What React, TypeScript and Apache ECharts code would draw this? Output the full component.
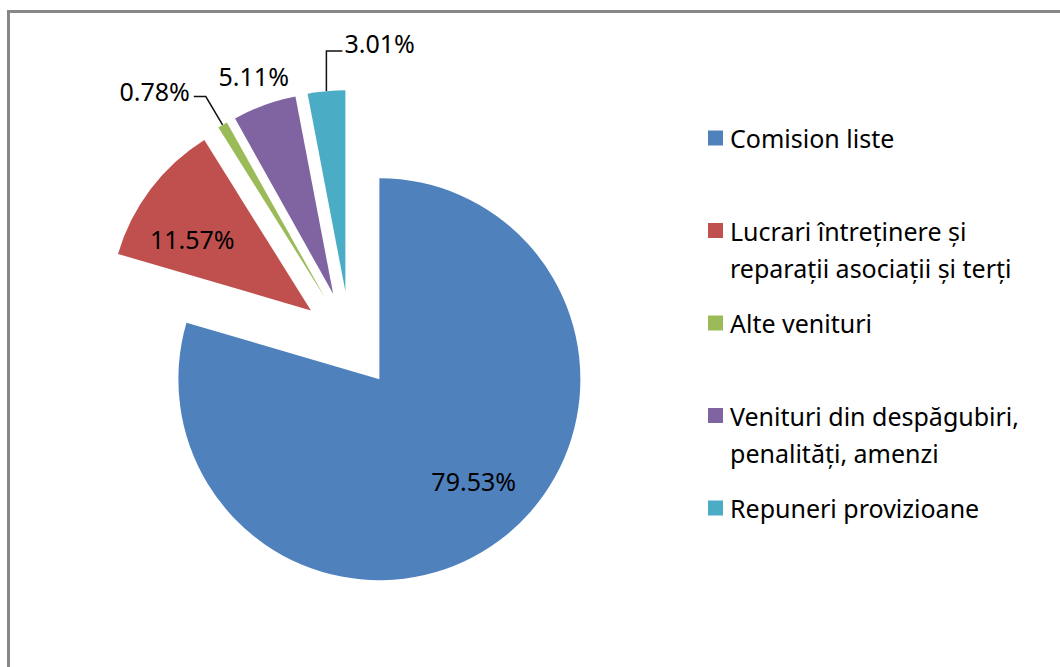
import React, { useEffect, useRef } from "react";
import * as echarts from "echarts";

// ---- data ----
const categories: string[] = [
  "Comision liste",
  "Lucrari întreținere și\nreparații asociații și terți",
  "Alte venituri",
  "Venituri din despăgubiri,\npenalități, amenzi",
  "Repuneri provizioane",
];
const values: number[] = [79.53, 11.57, 0.78, 5.11, 3.01];
const colors: string[] = ["#4F81BD", "#C0504D", "#9BBB59", "#8064A2", "#4BACC6"];

// ---- layout ----
const CX = 350;
const CY = 340;
const R = 201;
const EXPLODE = 49;
const FONT = "'Noto Sans', 'DejaVu Sans', sans-serif";
const FS = 25;

type Placement =
  | { kind: "inside"; frac: number; nudge: number }
  | { kind: "plain"; dist: number }
  | { kind: "leader"; len: number; len2: number; side: number; vertical: boolean; gap: number; lift: number };

const placements: Placement[] = [
  { kind: "inside", frac: 0.69, nudge: -6 },
  { kind: "inside", frac: 0.69, nudge: -6 },
  { kind: "leader", len: 33, len2: 12, side: -1, vertical: false, gap: 4, lift: 6 },
  { kind: "plain", dist: 31 },
  { kind: "leader", len: 40, len2: 16, side: 1, vertical: true, gap: 2, lift: 8 },
];

const LEGEND_X = 708;
const LEGEND_Y0 = 138;
const LEGEND_STEP = 92.5;
const LEGEND_ICON = 15;
const LEGEND_LINE = 37;

const deg = Math.PI / 180;
const dirOf = (a: number): [number, number] => [Math.sin(a * deg), -Math.cos(a * deg)];

export default function App() {
  const ref = useRef<HTMLDivElement>(null);

  useEffect(() => {
    if (!ref.current) return;
    const chart = echarts.init(ref.current, undefined, { renderer: "svg" });

    const total = values.reduce((a, b) => a + b, 0);
    let acc = 0;
    const mids = values.map((v) => {
      const s = (acc / total) * 360;
      acc += v;
      const e = (acc / total) * 360;
      return (s + e) / 2;
    });

    const series = values.map((_, i) => {
      const [dx, dy] = dirOf(mids[i]);
      const cx = CX + EXPLODE * dx;
      const cy = CY + EXPLODE * dy;
      const pl = placements[i];
      const hasLine = pl.kind === "leader";
      return {
        type: "pie",
        center: [cx, cy],
        radius: R,
        startAngle: 90,
        clockwise: true,
        silent: true,
        selectedMode: false,
        avoidLabelOverlap: false,
        animation: false,
        itemStyle: { borderWidth: 0 },
        emphasis: { disabled: true },
        label: {
          show: true,
          position: pl.kind === "inside" ? "inside" : "outside",
          formatter: (p: any) => p.percent.toFixed(2) + "%",
          fontFamily: FONT,
          fontSize: FS,
          color: "#000",
        },
        labelLine: {
          show: hasLine,
          lineStyle: { color: "#111", width: 1.5 },
        },
        data: values.map((v, j) => ({
          value: v,
          name: categories[j],
          itemStyle: { color: j === i ? colors[j] : "rgba(0,0,0,0)", borderWidth: 0 },
          label: { show: j === i },
          labelLine: { show: j === i && hasLine },
        })),
        labelLayout: (p: any) => {
          if (p.dataIndex !== i) return {};
          const w = p.labelRect ? p.labelRect.width : 0;
          if (pl.kind === "inside") {
            const [nx, ny] = dirOf(mids[i] + pl.nudge);
            return { x: cx + nx * R * pl.frac, y: cy + ny * R * pl.frac };
          }
          if (pl.kind === "plain") {
            const px = cx + dx * (R + pl.dist);
            const py = cy + dy * (R + pl.dist);
            return { x: px + w / 2, y: py };
          }
          const a: [number, number] = [cx + dx * R, cy + dy * R];
          const b: [number, number] = pl.vertical
            ? [a[0], a[1] - pl.len]
            : [a[0] + dx * pl.len, a[1] + dy * pl.len];
          const c: [number, number] = [b[0] + pl.side * pl.len2, b[1]];
          const x = pl.side < 0 ? c[0] - pl.gap : c[0] + pl.gap + w;
          return { x, y: c[1] - pl.lift, labelLinePoints: [a, b, c] };
        },
      };
    });

    const legendGraphics = categories.map((name, i) => {
      const y = LEGEND_Y0 + i * LEGEND_STEP;
      return {
        type: "group",
        silent: true,
        children: [
          {
            type: "rect",
            shape: { x: LEGEND_X, y: y - LEGEND_ICON / 2, width: LEGEND_ICON, height: LEGEND_ICON },
            style: { fill: colors[i] },
          },
          {
            type: "text",
            x: LEGEND_X + 22,
            y: y - LEGEND_LINE / 2,
            style: {
              text: name,
              fontFamily: FONT,
              fontSize: FS,
              lineHeight: LEGEND_LINE,
              fill: "#000",
              align: "left",
              verticalAlign: "top",
            },
          },
        ],
      };
    });

    chart.setOption({
      animation: false,
      backgroundColor: "#fff",
      graphic: [
        {
          type: "rect",
          silent: true,
          z: -10,
          shape: { x: 8.5, y: 11.5, width: 1200, height: 800 },
          style: { fill: "none", stroke: "#878787", lineWidth: 3 },
        },
        ...legendGraphics,
      ],
      series,
    });

    return () => chart.dispose();
  }, []);

  return (
    <div
      ref={ref}
      style={{ position: "absolute", left: 0, top: 0, width: 1060, height: 667 }}
    />
  );
}
